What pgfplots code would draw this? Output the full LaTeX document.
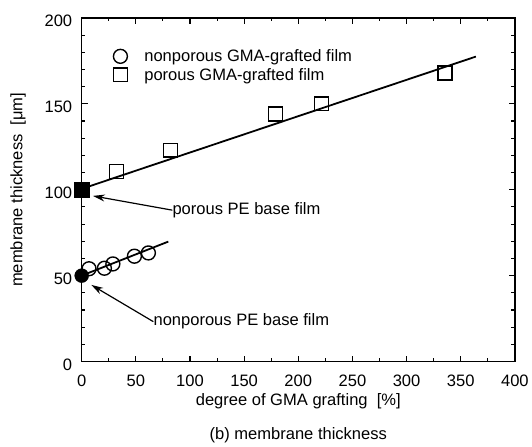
\documentclass[border=0pt]{standalone}
\usepackage{pgfplots}
\pgfplotsset{compat=1.18}
\usepackage{fontspec}
\setmainfont{Liberation Sans}
\usetikzlibrary{arrows.meta}
\begin{document}
\begin{tikzpicture}[font=\fontsize{16.6}{20}\selectfont]
\begin{axis}[
  scale only axis, width=435pt, height=345pt,
  xmin=0, xmax=400, ymin=0, ymax=200,
  xtick={0,50,...,400}, ytick={0,50,...,200},
  minor x tick num=1, minor y tick num=4,
  major tick length=6pt, minor tick length=3.5pt,
  axis line style={line width=1.4pt},
  every tick/.style={line width=1.1pt,black},
  /pgf/number format/assume math mode=true,
  tick label style={font=\fontsize{16.6}{20}\selectfont},
  xticklabel style={yshift=-10pt},
  yticklabel style={xshift=-6pt, yshift=-3pt},
  xlabel={degree of GMA grafting\ \ [\%]},
  ylabel={membrane thickness\ \ [μm]},
  xlabel style={at={(axis description cs:0.5,-0.116)}, anchor=center},
  ylabel style={at={(axis description cs:-0.147,0.5)}, anchor=center},
  legend style={draw=none, fill=none, at={(0.066,0.92)}, anchor=north west, row sep=1pt,
    column sep=15pt, font=\fontsize{16.6}{20}\selectfont},
  legend cell align=left,
  clip=false,
]
% fitted lines
\addplot[black, line width=1.8pt, forget plot] coordinates {(0,100.5) (364,177.5)};
\addplot[black, line width=1.8pt, forget plot] coordinates {(0,50) (80,69.8)};
% open markers
\addplot[only marks, mark=o, mark size=7pt, mark options={fill=white, line width=1.4pt}] coordinates {
 (6.8,54) (21,54.3) (28.8,56.8) (48.7,61.3) (61.6,63.2)};
\addlegendentry{nonporous GMA-grafted film}
\addplot[only marks, mark=square, mark size=7pt, mark options={fill=white, line width=1.4pt}] coordinates {
 (32,110.7) (82,123) (179,144) (221.6,150) (335.6,168)};
\addlegendentry{porous GMA-grafted film}
% base films
\addplot[only marks, mark=*, mark size=7pt, forget plot] coordinates {(0,50)};
\addplot[only marks, mark=square*, mark size=7.5pt, forget plot] coordinates {(0,100)};
% annotations
\draw[line width=1.2pt, -{Stealth[length=12pt,width=7pt]}] (axis cs:83.7,88.1) -- (axis cs:10.4,96.4);
\node[anchor=west, inner sep=0pt] at (axis cs:83.7,88.1) {porous PE base film};
\draw[line width=1.2pt, -{Stealth[length=12pt,width=7pt]}] (axis cs:66.2,23.2) -- (axis cs:8.9,44.6);
\node[anchor=west, inner sep=0pt] at (axis cs:66.2,23.2) {nonporous PE base film};
\end{axis}
\node at ([yshift=-74pt]current axis.south) {(b) membrane thickness};
\path ([xshift=-82pt,yshift=-81pt]current axis.south west) rectangle ([xshift=15pt,yshift=18pt]current axis.north east);
\end{tikzpicture}
\end{document}
